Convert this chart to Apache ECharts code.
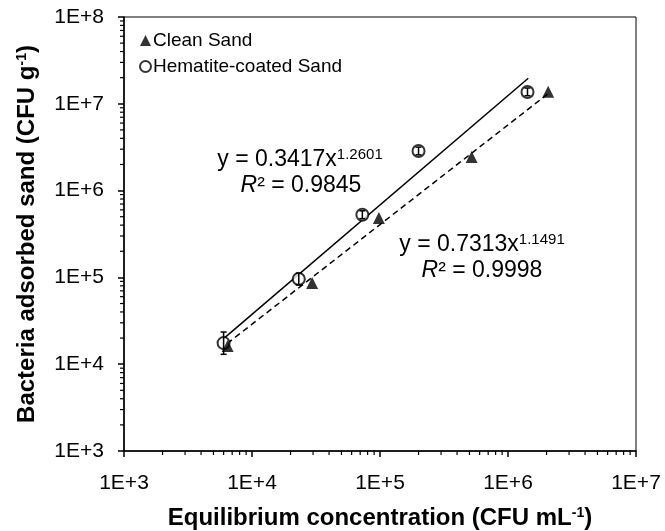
<!DOCTYPE html>
<html><head><meta charset="utf-8">
<script src="https://cdn.jsdelivr.net/npm/echarts@6/dist/echarts.min.js"></script>
<style>html,body{margin:0;padding:0;background:#fff}#c{width:665px;height:531px}</style>
</head><body><div id="c"></div>
<script>
// Clean Sand (filled triangles)
const cleanX = [6.45e3, 2.95e4, 9.8e4, 5.2e5, 2.06e6];
const cleanY = [1.62e4, 8.6e4, 4.83e5, 2.44e6, 1.38e7];
// Hematite-coated Sand (open circles) with error bars
const hemX = [6.0e3, 2.32e4, 7.28e4, 2.0e5, 1.42e6];
const hemY = [1.75e4, 9.6e4, 5.26e5, 2.86e6, 1.37e7];
const hemLow = [1.3e4, 8.2e4, 4.75e5, 2.58e6, 1.24e7];
const hemHigh = [2.35e4, 1.12e5, 5.85e5, 3.17e6, 1.52e7];
// Power-law trendline end points
const hemFitX = [6.0e3, 1.44e6];
const hemFitY = [1.97e4, 1.97e7];
const cleanFitX = [6.4e3, 2.06e6];
const cleanFitY = [1.73e4, 1.31e7];
// Axes
const xMin = 1e3, xMax = 1e7, yMin = 1e3, yMax = 1e8;
const seriesNames = ['Clean Sand', 'Hematite-coated Sand'];

const FONT = '"Liberation Sans", Arial, sans-serif';
const zip = (a, b) => a.map((v, i) => [v, b[i]]);

function minorValues(lo, hi) {
  const out = [];
  for (let d = lo; d < hi; d *= 10) for (let m = 2; m <= 9; m++) out.push(m * d);
  return out;
}
const xMinor = minorValues(xMin, xMax);
const yMinor = minorValues(yMin, yMax);
const fmt = v => '1E+' + Math.round(Math.log10(v));

const eqRich = {
  a: {fontSize: 23, fontFamily: FONT, fill: '#000', lineHeight: 26},
  s: {fontSize: 15, fontFamily: FONT, verticalAlign: 'top', fill: '#000', lineHeight: 26}
};
const r2Rich = {
  i: {fontSize: 23, fontFamily: FONT, fontStyle: 'italic', fill: '#000'},
  a: {fontSize: 23, fontFamily: FONT, fill: '#000'}
};
function txt(x, y, text, rich) {
  return {type: 'text', x: x, y: y, z: 100, style: {
    text: text, align: 'center', textAlign: 'center', verticalAlign: 'middle', textVerticalAlign: 'middle',
    fill: '#000', rich: rich}};
}

const chart = echarts.init(document.getElementById('c'), null, {renderer: 'canvas'});
chart.setOption({
  animation: false,
  backgroundColor: '#fff',
  textStyle: {fontFamily: FONT, color: '#000'},
  grid: {left: 124, right: 29, top: 17, bottom: 80, show: true, borderColor: '#000', borderWidth: 1,
    containLabel: false, outerBoundsMode: 'none'},
  legend: {
    orient: 'vertical', left: 139, top: 31, itemGap: 7, itemWidth: 11, itemHeight: 11, padding: 0,
    textStyle: {fontSize: 19, fontFamily: FONT, color: '#000', padding: [0, 0, 0, -3]},
    data: [seriesNames[0], seriesNames[1]]
  },
  xAxis: {
    type: 'log', logBase: 10, min: xMin, max: xMax,
    name: 'Equilibrium concentration (CFU mL{s|-1})', nameLocation: 'middle', nameGap: 55,
    nameTextStyle: {fontSize: 24, fontWeight: 'bold', fontFamily: FONT, color: '#000',
      rich: {s: {fontSize: 14, fontWeight: 'bold', fontFamily: FONT, verticalAlign: 'top', lineHeight: 24}}},
    axisLine: {lineStyle: {color: '#000', width: 1.5}},
    axisTick: {show: true, inside: false, length: 6, lineStyle: {color: '#000', width: 1.5}},
    axisLabel: {formatter: fmt, fontSize: 21, fontFamily: FONT, color: '#000', margin: 22},
    splitLine: {show: false}
  },
  yAxis: {
    type: 'log', logBase: 10, min: yMin, max: yMax,
    name: 'Bacteria adsorbed sand (CFU g{s|-1})', nameLocation: 'middle', nameGap: 85,
    nameTextStyle: {fontSize: 24, fontWeight: 'bold', fontFamily: FONT, color: '#000',
      rich: {s: {fontSize: 14, fontWeight: 'bold', fontFamily: FONT, verticalAlign: 'top', lineHeight: 24}}},
    axisLine: {lineStyle: {color: '#000', width: 1.5}},
    axisTick: {show: true, inside: false, length: 6, lineStyle: {color: '#000', width: 1.5}},
    axisLabel: {formatter: fmt, fontSize: 21, fontFamily: FONT, color: '#000', margin: 20},
    splitLine: {show: false}
  },
  graphic: [
    txt(300, 160, '{a|y = 0.3417x}{s|1.2601}', eqRich),
    txt(301, 186, '{i|R}{a|² = 0.9845}', r2Rich),
    txt(482, 245, '{a|y = 0.7313x}{s|1.1491}', eqRich),
    txt(482, 271, '{i|R}{a|² = 0.9998}', r2Rich)
  ],
  series: [
    {name: 'hemFit', type: 'line', data: zip(hemFitX, hemFitY), symbol: 'none', z: 2,
      lineStyle: {color: '#000', width: 1.5, type: 'solid'}, silent: true},
    {name: 'cleanFit', type: 'line', data: zip(cleanFitX, cleanFitY), symbol: 'none', z: 2,
      lineStyle: {color: '#000', width: 1.5, type: [6, 4]}, silent: true},
    {name: seriesNames[1], type: 'scatter', data: zip(hemX, hemY), symbol: 'circle', symbolSize: 12, z: 3,
      itemStyle: {color: '#fff', borderColor: '#000', borderWidth: 2}},
    {name: seriesNames[0], type: 'scatter', data: zip(cleanX, cleanY), symbol: 'triangle', symbolSize: 12, z: 4,
      itemStyle: {color: '#000'}},
    {name: 'errHem', type: 'custom', z: 5, silent: true,
      data: hemX.map((x, i) => [x, hemLow[i], hemHigh[i]]),
      encode: {x: 0, y: [1, 2]},
      renderItem: function (params, api) {
        const x = api.value(0);
        const p1 = api.coord([x, api.value(1)]);
        const p2 = api.coord([x, api.value(2)]);
        const w = 3;
        const st = {stroke: '#000', lineWidth: 1.5};
        return {type: 'group', children: [
          {type: 'line', shape: {x1: p1[0], y1: p1[1], x2: p2[0], y2: p2[1]}, style: st},
          {type: 'line', shape: {x1: p1[0] - w, y1: p1[1], x2: p1[0] + w, y2: p1[1]}, style: st},
          {type: 'line', shape: {x1: p2[0] - w, y1: p2[1], x2: p2[0] + w, y2: p2[1]}, style: st}
        ]};
      }},
    {name: 'xMinorTicks', type: 'custom', z: 5, silent: true, clip: false,
      data: xMinor.map(v => [v, yMin]),
      renderItem: function (params, api) {
        const p = api.coord([api.value(0), api.value(1)]);
        return {type: 'line', shape: {x1: p[0], y1: p[1], x2: p[0], y2: p[1] + 4}, style: {stroke: '#000', lineWidth: 1.2}};
      }},
    {name: 'yMinorTicks', type: 'custom', z: 5, silent: true, clip: false,
      data: yMinor.map(v => [xMin, v]),
      renderItem: function (params, api) {
        const p = api.coord([api.value(0), api.value(1)]);
        return {type: 'line', shape: {x1: p[0] - 4, y1: p[1], x2: p[0], y2: p[1]}, style: {stroke: '#000', lineWidth: 1.2}};
      }}
  ]
});
</script>
</body></html>
